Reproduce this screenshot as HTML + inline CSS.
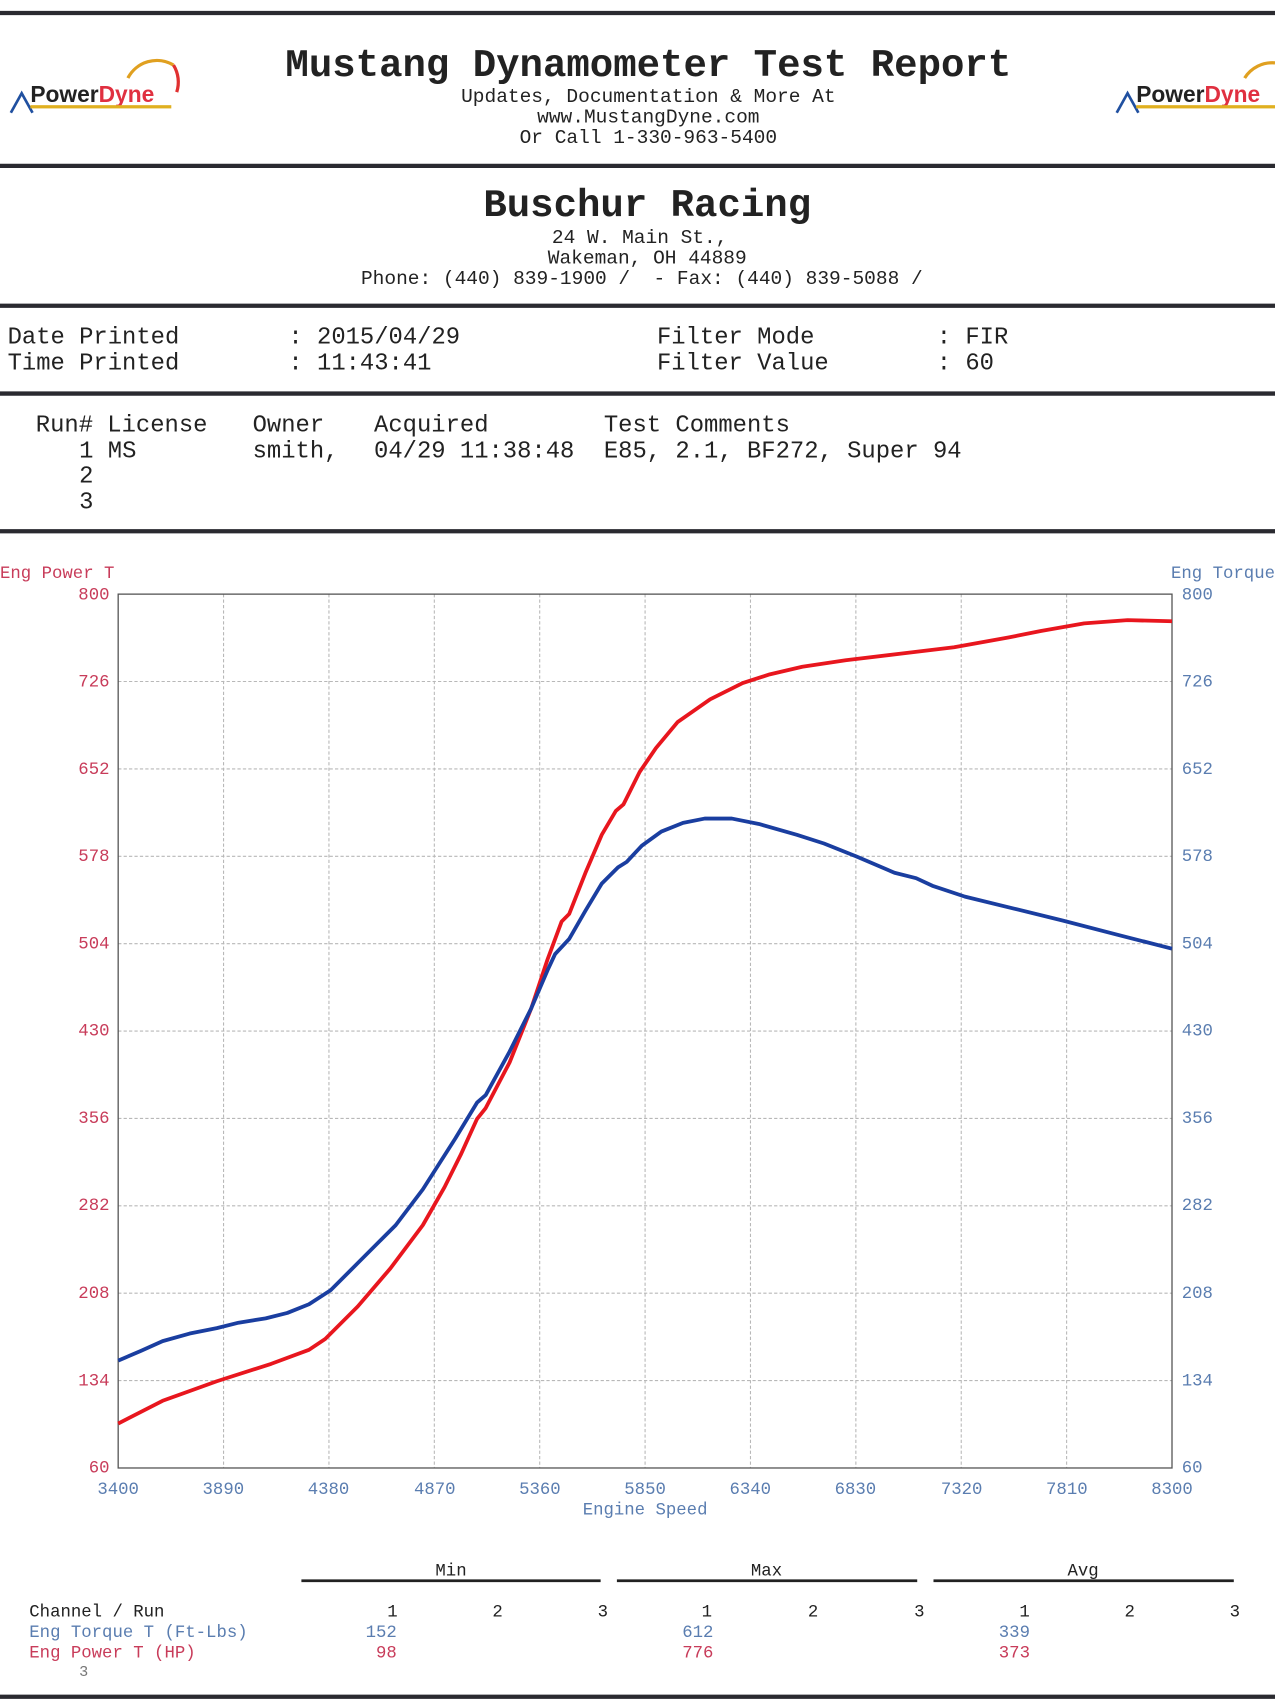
<!DOCTYPE html>
<html><head><meta charset="utf-8"><style>
html,body{margin:0;padding:0;background:#fff;}
svg{display:block;}
text{font-family:"Liberation Mono",monospace;}
</style></head><body>
<svg width="1275" height="1700" viewBox="0 0 1176 1568" xmlns="http://www.w3.org/2000/svg">
<rect width="1176" height="1568" fill="#fff"/>
<g stroke="#2a2a30" stroke-width="4">
<line x1="0" y1="12" x2="1176" y2="12"/>
<line x1="0" y1="153" x2="1176" y2="153"/>
<line x1="0" y1="282" x2="1176" y2="282"/>
<line x1="0" y1="363" x2="1176" y2="363"/>
<line x1="0" y1="490" x2="1176" y2="490"/>
<line x1="0" y1="1565" x2="1176" y2="1565"/>
</g>
<!-- logos -->
<g>
<path d="M118,72 A30,30 0 0 1 160,60" stroke="#e0a020" stroke-width="3" fill="none"/>
<path d="M160,60 A30,30 0 0 1 163,85" stroke="#e03030" stroke-width="3" fill="none"/>
<path d="M10,104 L20,86 L30,104" stroke="#2050a0" stroke-width="2.5" fill="none"/>
<text x="28" y="94" font-family="Liberation Sans" font-weight="bold" font-size="21" fill="#222" style="font-family:'Liberation Sans',sans-serif">Power<tspan fill="#e03040">Dyne</tspan></text>
<rect x="28" y="97" width="130" height="3" fill="#e0b020"/>
<path d="M1148,72 A30,30 0 0 1 1176,58" stroke="#e0a020" stroke-width="3" fill="none"/>
<path d="M1030,104 L1040,86 L1050,104" stroke="#2050a0" stroke-width="2.5" fill="none"/>
<text x="1048" y="94" font-weight="bold" font-size="21" fill="#222" style="font-family:'Liberation Sans',sans-serif">Power<tspan fill="#e03040">Dyne</tspan></text>
<rect x="1048" y="97" width="128" height="3" fill="#e0b020"/>
</g>
<g fill="#222" text-anchor="middle">
<text x="598" y="70" font-size="36" font-weight="bold">Mustang Dynamometer Test Report</text>
<text x="598" y="94" font-size="18">Updates, Documentation &amp; More At</text>
<text x="598" y="113" font-size="18">www.MustangDyne.com</text>
<text x="598" y="132" font-size="18">Or Call 1-330-963-5400</text>
<text x="597" y="199" font-size="36" font-weight="bold">Buschur Racing</text>
<text x="590" y="224" font-size="18">24 W. Main St.,</text>
<text x="597" y="243" font-size="18">Wakeman, OH  44889</text>
<text x="592" y="262" font-size="18" xml:space="preserve">Phone: (440) 839-1900 /  - Fax: (440) 839-5088 /</text>
</g>
<g fill="#222" font-size="22" xml:space="preserve">
<text x="7" y="317">Date Printed</text>
<text x="7" y="341">Time Printed</text>
<text x="266" y="317">: 2015/04/29</text>
<text x="266" y="341">: 11:43:41</text>
<text x="606" y="317">Filter Mode</text>
<text x="606" y="341">Filter Value</text>
<text x="864" y="317">: FIR</text>
<text x="864" y="341">: 60</text>
<text x="33" y="398">Run# License</text>
<text x="233" y="398">Owner</text>
<text x="345" y="398">Acquired</text>
<text x="557" y="398">Test Comments</text>
<text x="73" y="422">1 MS</text>
<text x="233" y="422">smith,</text>
<text x="345" y="422">04/29 11:38:48</text>
<text x="557" y="422">E85, 2.1, BF272, Super 94</text>
<text x="73" y="445">2</text>
<text x="73" y="469">3</text>
</g>
<!-- grid -->
<g stroke="#b8b8b8" stroke-width="1" stroke-dasharray="3,2">
<line x1="206.2" y1="548" x2="206.2" y2="1354"/><line x1="303.4" y1="548" x2="303.4" y2="1354"/><line x1="400.6" y1="548" x2="400.6" y2="1354"/><line x1="497.8" y1="548" x2="497.8" y2="1354"/><line x1="595" y1="548" x2="595" y2="1354"/><line x1="692.2" y1="548" x2="692.2" y2="1354"/><line x1="789.4" y1="548" x2="789.4" y2="1354"/><line x1="886.6" y1="548" x2="886.6" y2="1354"/><line x1="983.8" y1="548" x2="983.8" y2="1354"/>
<line x1="109" y1="628.6" x2="1081" y2="628.6"/><line x1="109" y1="709.2" x2="1081" y2="709.2"/><line x1="109" y1="789.8" x2="1081" y2="789.8"/><line x1="109" y1="870.4" x2="1081" y2="870.4"/><line x1="109" y1="951" x2="1081" y2="951"/><line x1="109" y1="1031.6" x2="1081" y2="1031.6"/><line x1="109" y1="1112.2" x2="1081" y2="1112.2"/><line x1="109" y1="1192.8" x2="1081" y2="1192.8"/><line x1="109" y1="1273.4" x2="1081" y2="1273.4"/>
</g>
<rect x="109" y="548" width="972" height="806" fill="none" stroke="#555" stroke-width="1.2"/>
<g font-size="16" fill="#c83c5a" text-anchor="end">
<text x="101" y="553">800</text><text x="101" y="633">726</text><text x="101" y="714">652</text><text x="101" y="794">578</text><text x="101" y="875">504</text><text x="101" y="955">430</text><text x="101" y="1036">356</text><text x="101" y="1116">282</text><text x="101" y="1197">208</text><text x="101" y="1278">134</text><text x="101" y="1358">60</text>
</g>
<text x="0" y="533" font-size="16" fill="#c83c5a">Eng Power T</text>
<text x="1176" y="533" font-size="16" fill="#5a7db0" text-anchor="end">Eng Torque</text>
<g font-size="16" fill="#5a7db0">
<text x="1090" y="553">800</text><text x="1090" y="633">726</text><text x="1090" y="714">652</text><text x="1090" y="794">578</text><text x="1090" y="875">504</text><text x="1090" y="955">430</text><text x="1090" y="1036">356</text><text x="1090" y="1116">282</text><text x="1090" y="1197">208</text><text x="1090" y="1278">134</text><text x="1090" y="1358">60</text>
</g>
<g font-size="16" fill="#5a7db0" text-anchor="middle">
<text x="109" y="1378">3400</text><text x="206" y="1378">3890</text><text x="303" y="1378">4380</text><text x="401" y="1378">4870</text><text x="498" y="1378">5360</text><text x="595" y="1378">5850</text><text x="692" y="1378">6340</text><text x="789" y="1378">6830</text><text x="887" y="1378">7320</text><text x="984" y="1378">7810</text><text x="1081" y="1378">8300</text>
<text x="595" y="1397">Engine Speed</text>
</g>
<polyline fill="none" stroke="#e8161e" stroke-width="3.5" stroke-linejoin="round" points="109,1313 150,1292 200,1274 250,1258 285,1245 300,1235 330,1205 360,1170 390,1130 410,1095 425,1065 440,1032 448,1022 470,980 490,930 505,885 518,850 525,843 540,805 555,770 568,748 575,742 590,712 605,690 625,666 655,645 685,630 710,622 740,615 780,609 830,603 880,597 930,588 960,582 1000,575 1040,572 1081,573"/>
<polyline fill="none" stroke="#1a3ea0" stroke-width="3.5" stroke-linejoin="round" points="109,1255 130,1246 150,1237 175,1230 200,1225 220,1220 245,1216 265,1211 285,1203 305,1190 330,1165 365,1130 390,1097 420,1050 440,1017 448,1010 470,970 490,930 505,895 512,880 525,866 540,840 555,815 570,800 578,795 592,780 610,767 630,759 650,755 675,755 700,760 735,770 760,778 790,790 825,805 845,810 860,817 890,827 935,838 980,849 1030,862 1081,875"/>
<g stroke="#222" stroke-width="2.5">
<line x1="278" y1="1458" x2="554" y2="1458"/><line x1="569" y1="1458" x2="846" y2="1458"/><line x1="861" y1="1458" x2="1138" y2="1458"/>
</g>
<g font-size="16" fill="#222" text-anchor="middle">
<text x="416" y="1453">Min</text><text x="707" y="1453">Max</text><text x="999" y="1453">Avg</text>
<text x="362" y="1491">1</text><text x="459" y="1491">2</text><text x="556" y="1491">3</text>
<text x="652" y="1491">1</text><text x="750" y="1491">2</text><text x="848" y="1491">3</text>
<text x="945" y="1491">1</text><text x="1042" y="1491">2</text><text x="1139" y="1491">3</text>
</g>
<text x="27" y="1491" font-size="16" fill="#222">Channel / Run</text>
<text x="27" y="1510" font-size="16" fill="#5a7db0">Eng Torque T (Ft-Lbs)</text>
<text x="27" y="1529" font-size="16" fill="#c83c5a">Eng Power T (HP)</text>
<g font-size="16" text-anchor="end">
<text x="366" y="1510" fill="#5a7db0">152</text><text x="658" y="1510" fill="#5a7db0">612</text><text x="950" y="1510" fill="#5a7db0">339</text>
<text x="366" y="1529" fill="#c83c5a">98</text><text x="658" y="1529" fill="#c83c5a">776</text><text x="950" y="1529" fill="#c83c5a">373</text>
</g>
<text x="73" y="1546" font-size="14" fill="#777">3</text>
</svg>
</body></html>
